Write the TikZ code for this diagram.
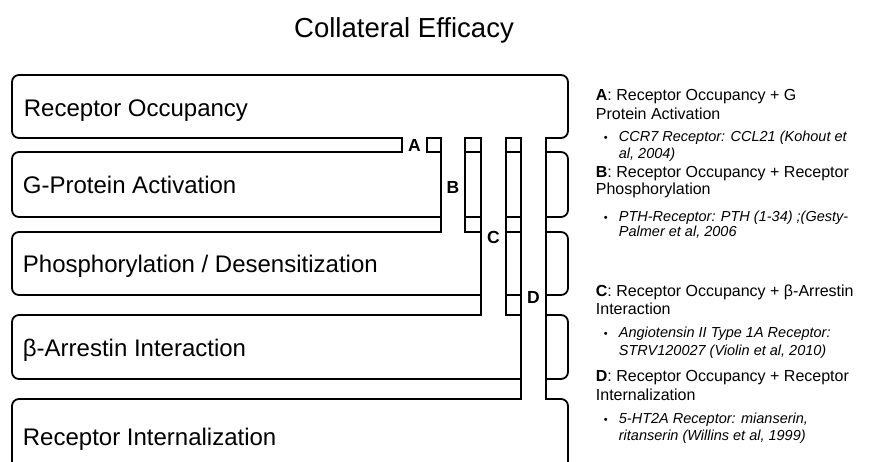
\documentclass[tikz,border=0pt]{standalone}
\usepackage{fontspec}
\setmainfont{Liberation Sans}
\begin{document}
\begin{tikzpicture}[x=1pt,y=-1pt, line width=1.8pt, line cap=rect, line join=miter,
  rnd/.style={rounded corners=7pt},
  rowlabel/.style={anchor=base west, inner sep=0pt, font=\fontsize{24}{28}\selectfont},
  chan/.style={inner sep=0pt, font=\fontsize{17.5}{20}\selectfont\bfseries},
  head/.style={anchor=base west, inner sep=0pt, font=\fontsize{16}{19}\selectfont},
  cite/.style={anchor=base west, inner sep=0pt, font=\fontsize{14.5}{17}\selectfont\itshape},
  bul/.style={anchor=base west, inner sep=0pt, font=\fontsize{11}{13}\selectfont}]
\useasboundingbox (0,0) rectangle (890,461);
\clip (0,0) rectangle (890,461);
% left parts of rows
\draw[rnd] (402,138) -- (12,138) -- (12,75) -- (568,75) -- (568,138) -- (546,138);
\draw[rnd] (402,152) -- (12,152) -- (12,217) -- (441,217);
\draw[rnd] (441,232) -- (12,232) -- (12,295) -- (481,295);
\draw[rnd] (481,315) -- (12,315) -- (12,379) -- (521,379);
\draw[rnd] (521,399) -- (12,399) -- (12,480);
% right bumps
\draw[rnd] (546,152) -- (568,152) -- (568,217) -- (546,217);
\draw[rnd] (546,232) -- (568,232) -- (568,295) -- (546,295);
\draw[rnd] (546,315) -- (568,315) -- (568,379) -- (546,379);
\draw[rnd] (546,399) -- (568,399) -- (568,480);
% channel walls
\draw (402,138) -- (402,152);
\draw (427,138) -- (427,152);
\draw (441,138) -- (441,232);
\draw (465,138) -- (465,232);
\draw (481,138) -- (481,315);
\draw (506,138) -- (506,315);
\draw (521,138) -- (521,399);
\draw (546,138) -- (546,399);
% slivers
\foreach \y in {138,152} {
  \draw (427,\y) -- (441,\y);
  \draw (465,\y) -- (481,\y);
  \draw (506,\y) -- (521,\y);
}
\foreach \y in {217,232} {
  \draw (465,\y) -- (481,\y);
  \draw (506,\y) -- (521,\y);
}
\foreach \y in {295,315} {
  \draw (506,\y) -- (521,\y);
}
% channel labels
\node[chan] (la) at (414.5,145) {A};
\node[chan] (lb) at (453,187) {B};
\node[chan] (lc) at (493.5,237) {C};
\node[chan] (ld) at (533.5,297.5) {D};
% title
\node[anchor=base, inner sep=0pt, font=\fontsize{27.5}{32}\selectfont] (title) at (404,37) {Collateral Efficacy};
% row labels
\node[rowlabel] (l0) at (23,116) {Receptor Occupancy};
\node[rowlabel] (l1) at (22,193) {G-Protein Activation};
\node[rowlabel] (l2) at (22,272) {Phosphorylation / Desensitization};
\node[rowlabel] (l3) at (22,356) {β-Arrestin Interaction};
\node[rowlabel] (l4) at (22,445) {Receptor Internalization};
% legend
\node[head] (ah1) at (595,100.5) {\textbf{A}: Receptor Occupancy + G};
\node[head] (ah2) at (595,119) {Protein Activation};
\node[bul] (ab) at (603,141) {•};
\node[cite] (ac1) at (618,141) {CCR7 Receptor: CCL21 (Kohout et};
\node[cite] (ac2) at (618,158) {al, 2004)};
\node[head] (bh1) at (595,177) {\textbf{B}: Receptor Occupancy + Receptor};
\node[head] (bh2) at (595,194) {Phosphorylation};
\node[bul] (bb) at (603,221) {•};
\node[cite] (bc1) at (618,221) {PTH-Receptor: PTH (1-34) ;(Gesty-};
\node[cite] (bc2) at (618,236) {Palmer et al, 2006};
\node[head] (ch1) at (595,296.5) {\textbf{C}: Receptor Occupancy + β-Arrestin};
\node[head] (ch2) at (595,314) {Interaction};
\node[bul] (cb) at (603,337) {•};
\node[cite] (cc1) at (618,337) {Angiotensin II Type 1A Receptor:};
\node[cite] (cc2) at (618,355) {STRV120027 (Violin et al, 2010)};
\node[head] (dh1) at (595,381.5) {\textbf{D}: Receptor Occupancy + Receptor};
\node[head] (dh2) at (595,400) {Internalization};
\node[bul] (db) at (603,423) {•};
\node[cite] (dc1) at (618,423) {5-HT2A Receptor: mianserin,};
\node[cite] (dc2) at (618,440) {ritanserin (Willins et al, 1999)};
\end{tikzpicture}
\end{document}
